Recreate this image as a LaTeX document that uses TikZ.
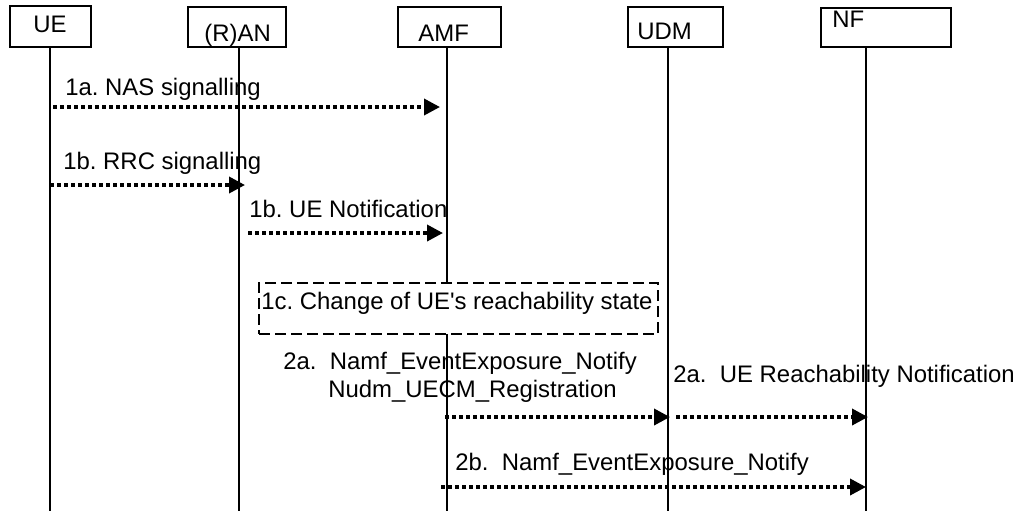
\documentclass[tikz,border=0pt]{standalone}
\usepackage{fontspec}
\setmainfont{Liberation Sans}
\usetikzlibrary{arrows.meta}
\begin{document}
\frenchspacing
\begin{tikzpicture}[x=0.5pt,y=-0.5pt,
  font=\fontsize{11.95}{14}\selectfont,
  entity/.style={draw, line width=1.45pt, fill=white, inner sep=0pt, outer sep=0pt},
  lbl/.style={inner sep=0pt, anchor=base west},
  life/.style={line width=0.65pt},
  msg/.style={line width=1.8pt, dash pattern=on 2pt off 1.5pt,
    -{Triangle[length=8pt,width=8pt]}},
  note/.style={draw, line width=1.2pt, dash pattern=on 5.5pt off 2.5pt, fill=white, inner sep=0pt}]
\useasboundingbox (0,0) rectangle (1016,511);
% lifelines
\coordinate (ueT) at (50,47);   \coordinate (ueB) at (50,511);
\coordinate (ranT) at (239,47); \coordinate (ranB) at (239,511);
\coordinate (amfT) at (447,47); \coordinate (amfB) at (447,511);
\coordinate (udmT) at (668,47); \coordinate (udmB) at (668,511);
\coordinate (nfT) at (866,47);  \coordinate (nfB) at (866,511);
\draw[life] (ueT) -- (ueB);
\draw[life] (ranT) -- (ranB);
\draw[life] (amfT) -- (amfB);
\draw[life] (udmT) -- (udmB);
\draw[life] (nfT) -- (nfB);
% entity boxes
\node[entity, minimum width=40.5pt, minimum height=20.5pt] (ue) at (50.5,26.5) {};
\node[entity, minimum width=49pt, minimum height=20pt] (ran) at (237,27) {};
\node[entity, minimum width=51.5pt, minimum height=20pt] (amf) at (449.5,27) {};
\node[entity, minimum width=47.5pt, minimum height=20pt] (udm) at (675.5,27) {};
\node[entity, minimum width=65pt, minimum height=19.5pt] (nf) at (886,27.5) {};
\node[lbl] (ueL) at (33,32) {UE};
\node[lbl] (ranL) at (204,41) {(R)AN};
\node[lbl] (amfL) at (418,41) {AMF};
\node[lbl] (udmL) at (637,39) {UDM};
\node[lbl] (nfL) at (832,27) {NF};
% messages
\coordinate (m1s) at (53,107);  \coordinate (m1e) at (440,107);
\coordinate (m2s) at (50,185);  \coordinate (m2e) at (245,185);
\coordinate (m3s) at (248,233); \coordinate (m3e) at (443,233);
\coordinate (m4s) at (445,417); \coordinate (m4e) at (670,417);
\coordinate (m5s) at (676,417); \coordinate (m5e) at (868,417);
\coordinate (m6s) at (441,487); \coordinate (m6e) at (866,487);
\draw[msg] (m1s) -- (m1e);
\draw[msg] (m2s) -- (m2e);
\draw[msg] (m3s) -- (m3e);
\draw[msg] (m4s) -- (m4e);
\draw[msg] (m5s) -- (m5e);
\draw[msg] (m6s) -- (m6e);
\node[lbl] (t1) at (65,95) {1a. NAS signalling};
\node[lbl] (t2) at (63,169) {1b. RRC signalling};
\node[lbl] (t3) at (249,217) {1b. UE Notification};
% note
\node[note, minimum width=199.5pt, minimum height=25.5pt] (n1c) at (458.5,308.5) {};
\node[lbl] (t4) at (261,309) {1c. Change of UE\textquotesingle s reachability state};
\node[lbl] (t5) at (283,369) {2a.\ \ Namf\_EventExposure\_Notify};
\node[lbl] (t6) at (328,397) {Nudm\_UECM\_Registration};
\node[lbl] (t7) at (673,382) {2a.\ \ UE Reachability Notification};
\node[lbl] (t8) at (455,470) {2b.\ \ Namf\_EventExposure\_Notify};
\end{tikzpicture}
\end{document}
